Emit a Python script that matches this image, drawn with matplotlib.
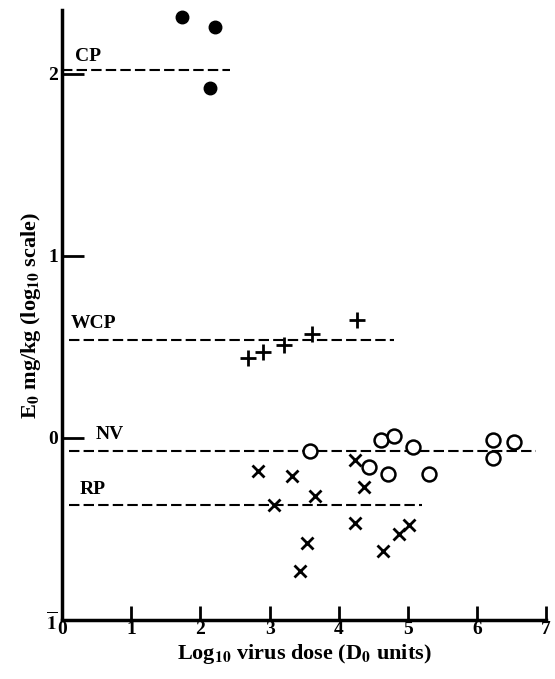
import matplotlib.pyplot as plt
import numpy as np

# log10 virus dose (x) and log10 E0 (y)
cp_x = [1.73, 2.21, 2.14]
cp_y = [2.31, 2.26, 1.92]

wcp_x = [2.69, 2.91, 3.21, 3.61, 4.27]
wcp_y = [0.44, 0.47, 0.51, 0.57, 0.65]

nv_x = [3.59, 4.61, 4.80, 5.07, 4.44, 4.71, 5.30, 6.23, 6.23, 6.54]
nv_y = [-0.07, -0.01, 0.01, -0.05, -0.16, -0.20, -0.20, -0.01, -0.11, -0.02]

rp_x = [2.83, 3.07, 3.33, 3.66, 4.23, 4.36, 4.23, 3.54, 3.44, 4.64, 4.87, 5.01]
rp_y = [-0.18, -0.37, -0.21, -0.32, -0.12, -0.27, -0.47, -0.58, -0.73, -0.62, -0.53, -0.48]

# mean lines: label, level, x start, x end
line_names = ['CP', 'WCP', 'NV', 'RP']
line_levels = [2.02, 0.54, -0.07, -0.37]
line_x0 = [0.0, 0.1, 0.1, 0.1]
line_x1 = [2.43, 4.8, 6.86, 5.2]

xticks = [0, 1, 2, 3, 4, 5, 6, 7]
yticks = [-1, 0, 1, 2]
ytick_labels = [r'$\overline{\mathbf{1}}$', '0', '1', '2']

plt.rcParams['font.family'] = ['Liberation Serif', 'DejaVu Serif']
plt.rcParams['mathtext.fontset'] = 'stix'

fig = plt.figure(figsize=(5.55, 6.79), dpi=100)
ax = fig.add_axes([0.112, 0.087, 0.872, 0.898])

for name, lvl, a, b in zip(line_names, line_levels, line_x0, line_x1):
    ax.plot([a, b], [lvl, lvl], color='black', lw=1.5, dashes=(5, 2))

lab = dict(fontsize=14, fontweight='bold', va='bottom')
ax.text(0.18, 2.05, 'CP', **lab)
ax.text(0.12, 0.58, 'WCP', **lab)
ax.text(0.48, -0.03, 'NV', **lab)
ax.text(0.25, -0.33, 'RP', **lab)

ax.plot(cp_x, cp_y, 'o', color='black', ms=9)
ax.plot(wcp_x, wcp_y, '+', color='black', ms=11, mew=2)
ax.plot(nv_x, nv_y, 'o', mfc='white', mec='black', ms=10, mew=1.8)
ax.plot(rp_x, rp_y, 'x', color='black', ms=8, mew=2)

ax.set_xlim(0, 7)
ax.set_ylim(-1, 2.35)
ax.set_xticks(xticks)
ax.set_xticklabels([str(t) for t in xticks], fontsize=14, fontweight='bold')
ax.set_yticks(yticks)
ax.set_yticklabels(ytick_labels, fontsize=14, fontweight='bold')
ax.tick_params(axis='x', direction='in', length=10, width=2, pad=1)
ax.tick_params(axis='y', direction='in', length=16, width=2, pad=3)

for s in ['top', 'right']:
    ax.spines[s].set_visible(False)
for s in ['left', 'bottom']:
    ax.spines[s].set_linewidth(2.5)

ax.set_xlabel(r'Log$_{\mathbf{10}}$ virus dose (D$_{\mathbf{0}}$ units)', fontsize=16, fontweight='bold', labelpad=3)
ax.set_ylabel(r'E$_{\mathbf{0}}$ mg/kg (log$_{\mathbf{10}}$ scale)', fontsize=16, fontweight='bold', labelpad=2)

plt.savefig('out.png', dpi=100)
